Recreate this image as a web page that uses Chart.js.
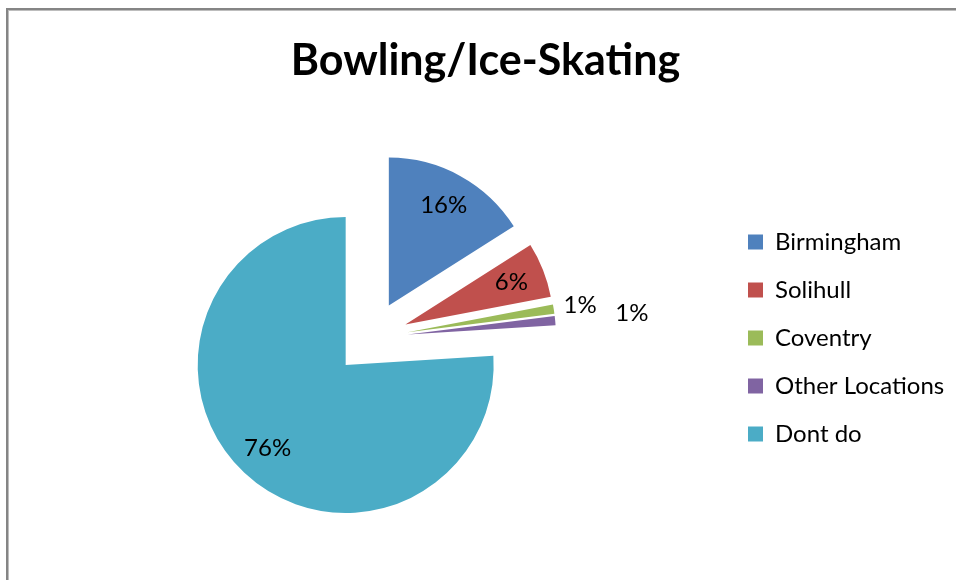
<!DOCTYPE html>
<html>
<head>
<meta charset="utf-8">
<title>Bowling/Ice-Skating</title>
<script src="https://cdn.jsdelivr.net/npm/chart.js@4"></script>
<style>
  html, body { margin: 0; padding: 0; background: #fff; overflow: hidden; width: 956px; height: 580px; }
  #frame {
    position: absolute; left: 6px; top: 8px; width: 1000px; height: 640px;
    border-top: 2px solid #858585; border-left: 2px solid #858585;
    box-shadow: inset 1px 1px 0 #bdbdbd;
  }
  #pie { position: absolute; left: 0; top: 0; }
</style>
</head>
<body>
<div id="frame"></div>
<canvas id="pie" width="980" height="580"></canvas>
<script>
const locations = ['Birmingham', 'Solihull', 'Coventry', 'Other Locations', 'Dont do'];
const shares = [16, 6, 1, 1, 76];

const sliceColours = ['#4F81BD', '#C0504D', '#9BBB59', '#8064A2', '#4BACC6'];
// how far out each percentage sits from its slice tip, as a fraction of the radius
const labelDistance = [0.77, 0.77, 1.18, 1.52, 0.77];

const pieRadius = 148;
const explodeBy = 37;

// pull every slice out from the middle along its own bisector
// (the built-in offset also widens and trims small arcs, so move the arcs instead)
const explodeSlices = {
    id: 'explodeSlices',
    beforeDatasetsDraw(chart) {
        const area = chart.chartArea;
        const cx = (area.left + area.right) / 2;
        const cy = (area.top + area.bottom) / 2;
        chart.getDatasetMeta(0).data.forEach(arc => {
            const mid = (arc.startAngle + arc.endAngle) / 2;
            arc.x = cx + Math.cos(mid) * explodeBy;
            arc.y = cy + Math.sin(mid) * explodeBy;
        });
    }
};

// percentage text on (or just outside) each slice
const sliceLabels = {
    id: 'sliceLabels',
    afterDatasetsDraw(chart) {
        const ctx = chart.ctx;
        ctx.save();
        ctx.font = '24px Lato';
        ctx.fillStyle = '#000';
        ctx.textAlign = 'center';
        ctx.textBaseline = 'middle';
        chart.getDatasetMeta(0).data.forEach((arc, i) => {
            const mid = (arc.startAngle + arc.endAngle) / 2;
            const d = labelDistance[i] * pieRadius;
            ctx.fillText(shares[i] + '%', arc.x + Math.cos(mid) * d, arc.y + Math.sin(mid) * d);
        });
        ctx.restore();
    }
};

const ctx = document.getElementById('pie').getContext('2d');
const chart = new Chart(ctx, {
    type: 'pie',
    data: {
        labels: locations,
        datasets: [{
            data: shares,
            backgroundColor: sliceColours,
            borderWidth: 0,
            radius: pieRadius
        }]
    },
    options: {
        responsive: false,
        animation: false,
        layout: {
            padding: { top: 0, left: 18, right: 27, bottom: 4 }
        },
        plugins: {
            title: {
                display: true,
                text: 'Bowling/Ice-Skating',
                color: '#000',
                font: { family: 'Lato', size: 43, weight: 'bold' },
                padding: { top: 35.7, bottom: 12.7 }
            },
            legend: {
                position: 'right',
                fullSize: false,
                maxWidth: 229,
                labels: {
                    color: '#000',
                    font: { family: 'Lato', size: 24 },
                    boxWidth: 15,
                    boxHeight: 15,
                    padding: 24,
                    generateLabels(chart) {
                        const items = Chart.overrides.pie.plugins.legend.labels.generateLabels(chart);
                        items.forEach(item => { item.lineWidth = 0; });
                        return items;
                    }
                }
            },
            tooltip: { enabled: false }
        }
    },
    plugins: [explodeSlices, sliceLabels]
});
</script>
</body>
</html>
